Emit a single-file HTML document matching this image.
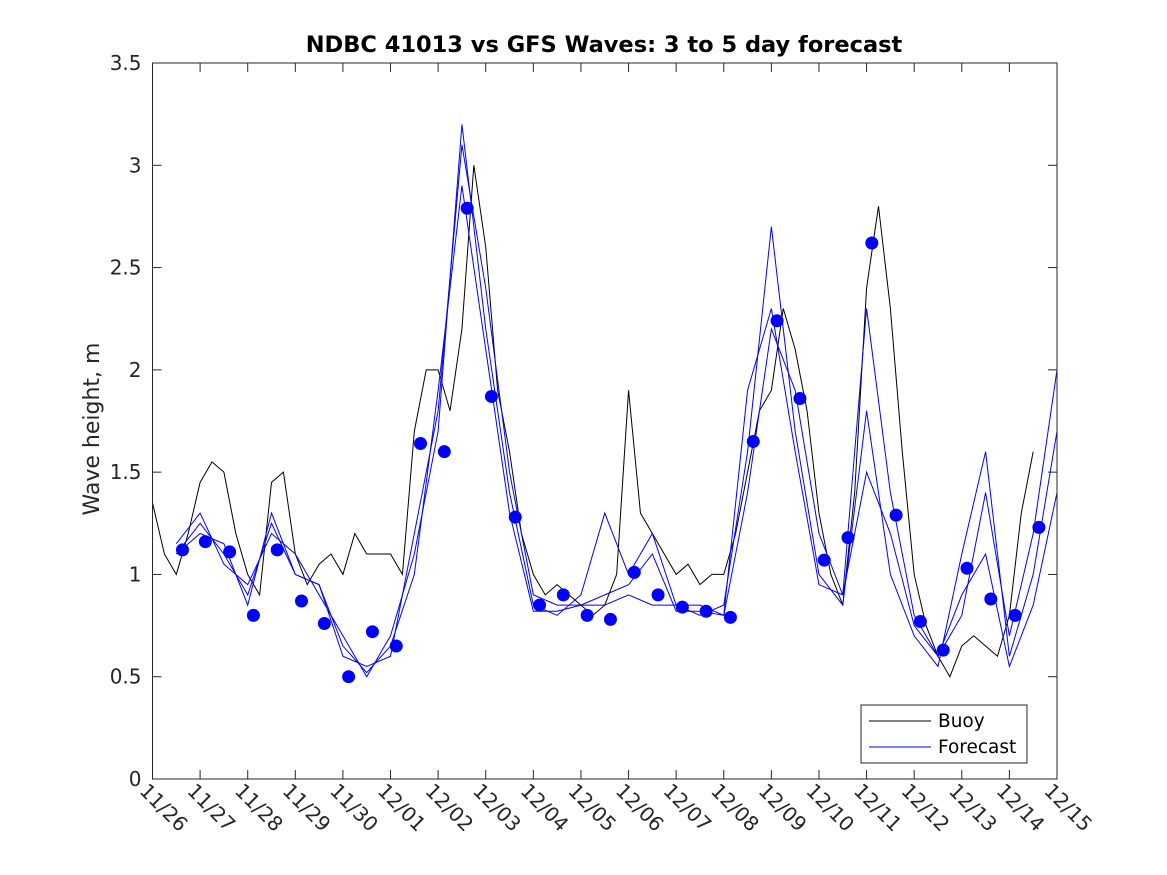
<!DOCTYPE html>
<html><head><meta charset="utf-8"><style>
body{margin:0;background:#fff;}
svg{display:block;font-family:"DejaVu Sans","Liberation Sans",sans-serif;}
</style></head><body>
<svg id="chart" width="1167" height="875" viewBox="0 0 1167 875">
<rect width="1167" height="875" fill="#fff"/>
<text x="604" y="52" text-anchor="middle" font-size="22.5" font-weight="bold" fill="#000">NDBC 41013 vs GFS Waves: 3 to 5 day forecast</text>
<text transform="translate(99,429) rotate(-90)" text-anchor="middle" font-size="22" fill="#262626">Wave height, m</text>
<g id="plot"></g>
<g id="axes"></g>
<g>
<rect x="861" y="705" width="166" height="58" fill="#fff" stroke="#262626" stroke-width="1"/>
<line x1="869" y1="721" x2="931" y2="721" stroke="#000" stroke-width="1"/>
<text x="938" y="727" font-size="18.5" fill="#000">Buoy</text>
<line x1="869" y1="747" x2="931" y2="747" stroke="#00f" stroke-width="1"/>
<text x="938" y="753" font-size="18.5" fill="#000">Forecast</text>
</g>
</svg>
<script>
const xTickLabels=["11/26","11/27","11/28","11/29","11/30","12/01","12/02","12/03","12/04","12/05","12/06","12/07","12/08","12/09","12/10","12/11","12/12","12/13","12/14","12/15"];
const yTicks=[0,0.5,1,1.5,2,2.5,3,3.5];
const buoyValues=[1.35,1.1,1.0,1.2,1.45,1.55,1.5,1.2,1.0,0.9,1.45,1.5,1.1,0.95,1.05,1.1,1.0,1.2,1.1,1.1,1.1,1.0,1.7,2.0,2.0,1.8,2.2,3.0,2.6,1.9,1.6,1.2,1.0,0.9,0.95,0.9,0.85,0.8,0.85,1.0,1.9,1.3,1.2,1.1,1.0,1.05,0.95,1.0,1.0,1.2,1.5,1.8,1.9,2.3,2.1,1.8,1.3,1.0,0.85,1.4,2.4,2.8,2.3,1.6,1.0,0.75,0.6,0.5,0.65,0.7,0.65,0.6,0.8,1.3,1.6];
const forecastA=[1.1,1.25,1.1,0.9,1.25,1.0,0.95,0.6,0.55,0.6,1.2,1.8,3.1,2.4,1.5,0.9,0.85,0.85,0.85,0.9,0.85,0.85,0.85,0.8,1.4,2.2,1.9,1.2,0.9,2.3,1.4,0.8,0.6,0.8,1.4,0.7,1.2,2.0];
const forecastB=[1.15,1.3,1.05,0.95,1.2,1.1,0.9,0.7,0.5,0.7,1.1,1.7,3.2,2.2,1.4,0.85,0.8,0.9,1.3,1.0,1.2,0.85,0.8,0.85,1.6,2.7,1.7,1.0,0.85,1.8,1.0,0.7,0.55,1.1,1.6,0.6,1.0,1.7];
const forecastC=[1.1,1.2,1.15,0.85,1.3,1.0,0.95,0.65,0.52,0.65,1.0,1.9,2.9,2.1,1.3,0.82,0.82,0.85,0.9,0.95,1.1,0.82,0.82,0.8,1.9,2.3,1.6,0.95,0.9,1.5,1.2,0.75,0.6,0.9,1.1,0.55,0.85,1.4];
const dotDays=[0.63,1.11,1.62,2.12,2.62,3.13,3.61,4.12,4.62,5.12,5.63,6.13,6.61,7.12,7.62,8.13,8.63,9.13,9.62,10.12,10.62,11.13,11.63,12.14,12.62,13.12,13.6,14.11,14.61,15.11,15.62,16.13,16.61,17.11,17.61,18.12,18.62];
const dotValues=[1.12,1.16,1.11,0.80,1.12,0.87,0.76,0.50,0.72,0.65,1.64,1.60,2.79,1.87,1.28,0.85,0.90,0.80,0.78,1.01,0.90,0.84,0.82,0.79,1.65,2.24,1.86,1.07,1.18,2.62,1.29,0.77,0.63,1.03,0.88,0.80,1.23];

const X0=152.5,X1=1057,Y0=779,Y1=63;
const xs=d=>X0+(X1-X0)*d/19;
const ys=v=>Y0-(Y0-Y1)*v/3.5;
const NS="http://www.w3.org/2000/svg";
const plot=document.getElementById('plot'),axes=document.getElementById('axes');
function mk(t,a,p){const e=document.createElementNS(NS,t);for(const k in a)e.setAttribute(k,a[k]);p.appendChild(e);return e;}

const bg=mk('rect',{x:X0,y:Y1,width:X1-X0,height:Y0-Y1,fill:'#fff'},plot);



const bl=mk('polyline',{points:buoyValues.map((v,i)=>xs(i*0.25)+','+ys(v)).join(' '),fill:'none',stroke:'#000','stroke-width':1},plot);



[forecastA,forecastB,forecastC].forEach((s,k)=>{
  const l=mk('polyline',{points:s.map((v,i)=>xs(0.5+i*0.5)+','+ys(v)).join(' '),fill:'none',stroke:'#00f','stroke-width':1},plot);
  
  
});
dotDays.forEach((d,i)=>{
  const c=mk('circle',{cx:xs(d),cy:ys(dotValues[i]),r:6.5,fill:'#00f'},plot);
  
  
});

const box=mk('rect',{x:X0,y:Y1,width:X1-X0,height:Y0-Y1,fill:'none',stroke:'#262626','stroke-width':1},axes);


yTicks.forEach(v=>{
  const y=ys(v);
  mk('line',{x1:X0,y1:y,x2:X0+9,y2:y,stroke:'#262626'},axes);
  mk('line',{x1:X1,y1:y,x2:X1-9,y2:y,stroke:'#262626'},axes);
  const t=mk('text',{x:X0-11,y:y+7,'text-anchor':'end','font-size':20,fill:'#262626'},axes);
  t.textContent=String(v);
  
  
});
xTickLabels.forEach((s,i)=>{
  const x=xs(i);
  mk('line',{x1:x,y1:Y0,x2:x,y2:Y0-9,stroke:'#262626'},axes);
  mk('line',{x1:x,y1:Y1,x2:x,y2:Y1+9,stroke:'#262626'},axes);
  const t=mk('text',{transform:'translate('+(x-14)+','+(Y0+13)+') rotate(45)','font-size':20,fill:'#262626'},axes);
  t.textContent=s;
  
  
});
</script>
</body></html>
